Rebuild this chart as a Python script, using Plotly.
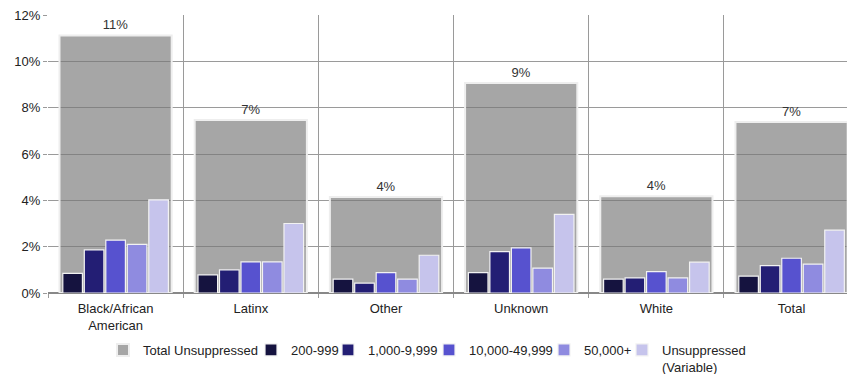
import plotly.graph_objects as go

categories = ["Black/African<br>American", "Latinx", "Other", "Unknown", "White", "Total"]
total_unsuppressed = [0.1112, 0.0747, 0.0414, 0.0906, 0.0418, 0.0738]
s_200_999 = [0.0085, 0.0078, 0.0060, 0.0088, 0.0060, 0.0073]
s_1000_9999 = [0.0186, 0.0100, 0.0043, 0.0179, 0.0065, 0.0118]
s_10000_49999 = [0.0228, 0.0134, 0.0088, 0.0195, 0.0092, 0.0150]
s_50000_plus = [0.0210, 0.0134, 0.0060, 0.0107, 0.0065, 0.0125]
s_unsuppressed_var = [0.0402, 0.0300, 0.0163, 0.0339, 0.0133, 0.0271]

series = [
    ("200-999", s_200_999, "#15133f"),
    ("1,000-9,999", s_1000_9999, "#231e74"),
    ("10,000-49,999", s_10000_49999, "#5752cf"),
    ("50,000+", s_50000_plus, "#8f8be0"),
    ("Unsuppressed<br>(Variable)", s_unsuppressed_var, "#c6c4ec"),
]

FONT = "Liberation Sans, Arial, sans-serif"
W, H = 847, 374
# legend text start positions (px) for each entry
legend_text_x = [143, 291, 368, 469, 584, 662]
legend_names = ["legend", "legend2", "legend3", "legend4", "legend5", "legend6"]

fig = go.Figure()
fig.add_trace(go.Bar(
    x=categories, y=total_unsuppressed, name="Total Unsuppressed",
    marker=dict(color="rgba(118,118,118,0.65)", line=dict(color="#eeeeee", width=2)),
    width=0.83, offset=-0.415,
    texttemplate="%{y:.0%}", textposition="outside", cliponaxis=False,
    textfont=dict(size=13, color="#333333", family=FONT),
    legend=legend_names[0],
))
bw = 0.145
step = 0.159
for i, (name, vals, col) in enumerate(series):
    center = (i - 2) * step
    fig.add_trace(go.Bar(
        x=categories, y=vals, name=name,
        marker=dict(color=col, line=dict(color="#f2f2f2", width=1.2)),
        width=bw, offset=center - bw / 2,
        legend=legend_names[i + 1],
    ))

layout_legends = {}
for ln, tx in zip(legend_names, legend_text_x):
    layout_legends[ln] = dict(
        xref="container", yref="container",
        x=(tx - 40) / W, xanchor="left",
        y=1 - 335 / H, yanchor="top",
        orientation="h", bgcolor="rgba(0,0,0,0)", borderwidth=0,
        font=dict(size=13, family=FONT, color="#222222"),
        itemwidth=30, valign="top",
    )

fig.update_layout(
    width=W, height=H,
    margin=dict(l=48, r=0, t=15, b=81),
    barmode="overlay",
    plot_bgcolor="white", paper_bgcolor="white",
    font=dict(family=FONT, size=13, color="#222222"),
    showlegend=True,
    xaxis=dict(type="category", range=[-0.5, 5.41], tickson="boundaries",
               showgrid=True, gridcolor="#9a9a9a", gridwidth=1,
               ticks="outside", ticklen=4, tickcolor="#9a9a9a",
               showline=False, automargin=False, ticklabelstandoff=6,
               tickfont=dict(size=13, family=FONT, color="#222222")),
    yaxis=dict(range=[0, 0.12], dtick=0.02, tickformat=".0%",
               showgrid=True, gridcolor="#9a9a9a", gridwidth=1,
               zeroline=True, zerolinecolor="#888888", zerolinewidth=2,
               ticks="outside", ticklen=4, tickcolor="#9a9a9a", automargin=False,
               tickfont=dict(size=13, family=FONT, color="#222222")),
    **layout_legends,
)

fig.write_html("out.html")
